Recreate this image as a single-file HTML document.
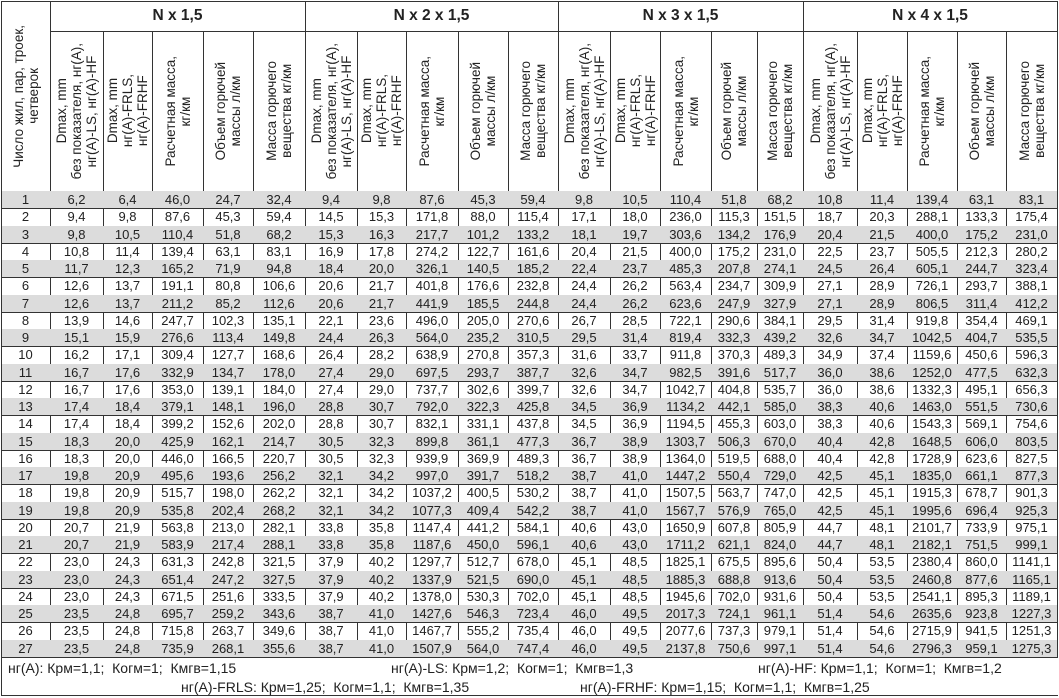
<!DOCTYPE html>
<html><head><meta charset="utf-8">
<style>
body{margin:0;width:1059px;height:698px;background:#fff;position:relative;overflow:hidden;font-family:"Liberation Sans",Arial,sans-serif;color:#222}
.c{position:absolute;box-sizing:border-box;border-right:1px solid #333;border-bottom:1px solid #333;font-size:13px;text-align:center;line-height:17px;white-space:nowrap}
.g{background:#dcdcdc}
.h{position:absolute;box-sizing:border-box;border-right:1px solid #333;border-bottom:1px solid #333;display:flex;align-items:center;justify-content:center}
.v{writing-mode:vertical-rl;transform:rotate(180deg);font-size:13.5px;line-height:15px;text-align:center;white-space:nowrap}
.t{font-weight:bold;font-size:15.5px}
.f{position:absolute;font-size:14px;white-space:pre}
</style></head><body>
<div id="root"></div>
<div style="position:absolute;left:1px;top:1px;width:1057px;height:695px;border-left:1px solid #333;border-top:1px solid #333;border-bottom:1px solid #333;box-sizing:border-box;pointer-events:none"></div>
<div class="f" style="left:8px;top:660px">нг(А): Крм=1,1;  Когм=1;  Кмгв=1,15</div>
<div class="f" style="left:391px;top:660px">нг(А)-LS: Крм=1,2;  Когм=1;  Кмгв=1,3</div>
<div class="f" style="left:758px;top:660px">нг(А)-HF: Крм=1,1;  Когм=1;  Кмгв=1,2</div>
<div class="f" style="left:181px;top:679px">нг(А)-FRLS: Крм=1,25;  Когм=1,1;  Кмгв=1,35</div>
<div class="f" style="left:580px;top:679px">нг(А)-FRHF: Крм=1,15;  Когм=1,1;  Кмгв=1,25</div>
<script>
const X=[1,50,103,152,203,253,305,357,406,458,508,558,610,660,711,757,803,857,907,957,1006,1057];
const D=`6,2 6,4 46,0 24,7 32,4 9,4 9,8 87,6 45,3 59,4 9,8 10,5 110,4 51,8 68,2 10,8 11,4 139,4 63,1 83,1
9,4 9,8 87,6 45,3 59,4 14,5 15,3 171,8 88,0 115,4 17,1 18,0 236,0 115,3 151,5 18,7 20,3 288,1 133,3 175,4
9,8 10,5 110,4 51,8 68,2 15,3 16,3 217,7 101,2 133,2 18,1 19,7 303,6 134,2 176,9 20,4 21,5 400,0 175,2 231,0
10,8 11,4 139,4 63,1 83,1 16,9 17,8 274,2 122,7 161,6 20,4 21,5 400,0 175,2 231,0 22,5 23,7 505,5 212,3 280,2
11,7 12,3 165,2 71,9 94,8 18,4 20,0 326,1 140,5 185,2 22,4 23,7 485,3 207,8 274,1 24,5 26,4 605,1 244,7 323,4
12,6 13,7 191,1 80,8 106,6 20,6 21,7 401,8 176,6 232,8 24,4 26,2 563,4 234,7 309,9 27,1 28,9 726,1 293,7 388,1
12,6 13,7 211,2 85,2 112,6 20,6 21,7 441,9 185,5 244,8 24,4 26,2 623,6 247,9 327,9 27,1 28,9 806,5 311,4 412,2
13,9 14,6 247,7 102,3 135,1 22,1 23,6 496,0 205,0 270,6 26,7 28,5 722,1 290,6 384,1 29,5 31,4 919,8 354,4 469,1
15,1 15,9 276,6 113,4 149,8 24,4 26,3 564,0 235,2 310,5 29,5 31,4 819,4 332,3 439,2 32,6 34,7 1042,5 404,7 535,5
16,2 17,1 309,4 127,7 168,6 26,4 28,2 638,9 270,8 357,3 31,6 33,7 911,8 370,3 489,3 34,9 37,4 1159,6 450,6 596,3
16,7 17,6 332,9 134,7 178,0 27,4 29,0 697,5 293,7 387,7 32,6 34,7 982,5 391,6 517,7 36,0 38,6 1252,0 477,5 632,3
16,7 17,6 353,0 139,1 184,0 27,4 29,0 737,7 302,6 399,7 32,6 34,7 1042,7 404,8 535,7 36,0 38,6 1332,3 495,1 656,3
17,4 18,4 379,1 148,1 196,0 28,8 30,7 792,0 322,3 425,8 34,5 36,9 1134,2 442,1 585,0 38,3 40,6 1463,0 551,5 730,6
17,4 18,4 399,2 152,6 202,0 28,8 30,7 832,1 331,1 437,8 34,5 36,9 1194,5 455,3 603,0 38,3 40,6 1543,3 569,1 754,6
18,3 20,0 425,9 162,1 214,7 30,5 32,3 899,8 361,1 477,3 36,7 38,9 1303,7 506,3 670,0 40,4 42,8 1648,5 606,0 803,5
18,3 20,0 446,0 166,5 220,7 30,5 32,3 939,9 369,9 489,3 36,7 38,9 1364,0 519,5 688,0 40,4 42,8 1728,9 623,6 827,5
19,8 20,9 495,6 193,6 256,2 32,1 34,2 997,0 391,7 518,2 38,7 41,0 1447,2 550,4 729,0 42,5 45,1 1835,0 661,1 877,3
19,8 20,9 515,7 198,0 262,2 32,1 34,2 1037,2 400,5 530,2 38,7 41,0 1507,5 563,7 747,0 42,5 45,1 1915,3 678,7 901,3
19,8 20,9 535,8 202,4 268,2 32,1 34,2 1077,3 409,4 542,2 38,7 41,0 1567,7 576,9 765,0 42,5 45,1 1995,6 696,4 925,3
20,7 21,9 563,8 213,0 282,1 33,8 35,8 1147,4 441,2 584,1 40,6 43,0 1650,9 607,8 805,9 44,7 48,1 2101,7 733,9 975,1
20,7 21,9 583,9 217,4 288,1 33,8 35,8 1187,6 450,0 596,1 40,6 43,0 1711,2 621,1 824,0 44,7 48,1 2182,1 751,5 999,1
23,0 24,3 631,3 242,8 321,5 37,9 40,2 1297,7 512,7 678,0 45,1 48,5 1825,1 675,5 895,6 50,4 53,5 2380,4 860,0 1141,1
23,0 24,3 651,4 247,2 327,5 37,9 40,2 1337,9 521,5 690,0 45,1 48,5 1885,3 688,8 913,6 50,4 53,5 2460,8 877,6 1165,1
23,0 24,3 671,5 251,6 333,5 37,9 40,2 1378,0 530,3 702,0 45,1 48,5 1945,6 702,0 931,6 50,4 53,5 2541,1 895,3 1189,1
23,5 24,8 695,7 259,2 343,6 38,7 41,0 1427,6 546,3 723,4 46,0 49,5 2017,3 724,1 961,1 51,4 54,6 2635,6 923,8 1227,3
23,5 24,8 715,8 263,7 349,6 38,7 41,0 1467,7 555,2 735,4 46,0 49,5 2077,6 737,3 979,1 51,4 54,6 2715,9 941,5 1251,3
23,5 24,8 735,9 268,1 355,6 38,7 41,0 1507,9 564,0 747,4 46,0 49,5 2137,8 750,6 997,1 51,4 54,6 2796,3 959,1 1275,3`.split("\n").map(r=>r.trim().split(" "));
let h="";
const HT=["Dmax, mm<br>без показателя, нг(А),<br>нг(А)-LS, нг(А)-HF","Dmax, mm<br>нг(А)-FRLS,<br>нг(А)-FRHF","Расчетная масса,<br>кг/км","Объем горючей<br>массы л/км","Масса горючего<br>вещества кг/км"];
const TT=["N x 1,5","N x 2 x 1,5","N x 3 x 1,5","N x 4 x 1,5"];
h+=`<div class="h" style="left:${X[0]}px;top:1px;width:${X[1]-X[0]+1}px;height:191px"><div class="v">Число жил, пар, троек,<br>четверок</div></div>`;
for(let g=0;g<4;g++){
 const a=X[1+g*5],b=X[6+g*5];
 h+=`<div class="h t" style="left:${a}px;top:1px;width:${b-a+1}px;height:31px">${TT[g]}</div>`;
 for(let k=0;k<5;k++){const l=X[1+g*5+k],r=X[2+g*5+k];
  h+=`<div class="h" style="left:${l}px;top:31px;width:${r-l+1}px;height:161px"><div class="v">${HT[k]}</div></div>`;}
}
const T0=191,RH=(657-191)/27;
for(let i=0;i<27;i++){
 const y=Math.round(T0+i*RH),y2=Math.round(T0+(i+1)*RH),g=i%2==0?" g":"";
 const vals=[String(i+1)].concat(D[i]);
 for(let j=0;j<21;j++){
  h+=`<div class="c${g}" style="left:${X[j]}px;top:${y}px;width:${X[j+1]-X[j]+1}px;height:${y2-y+1}px">${vals[j]}</div>`;
 }
}
document.getElementById("root").innerHTML=h;
</script>
</body></html>
